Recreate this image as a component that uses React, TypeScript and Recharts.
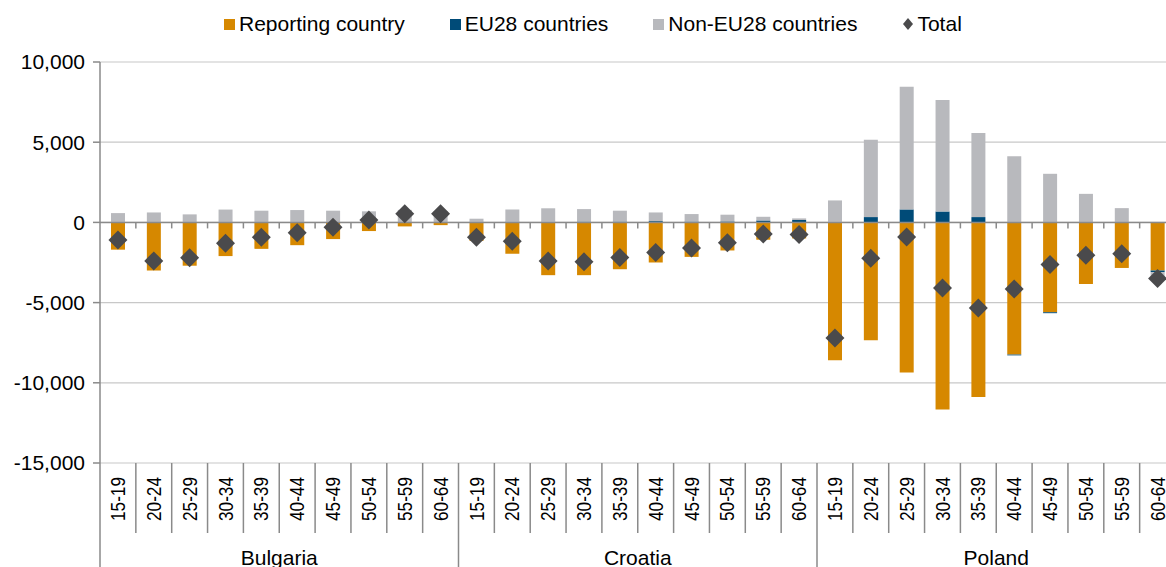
import React from "react";
import {
  ComposedChart,
  Bar,
  Line,
  XAxis,
  YAxis,
  CartesianGrid,
  ReferenceLine,
} from "recharts";

const countries = ["Bulgaria", "Croatia", "Poland"];
const ages = ["15-19", "20-24", "25-29", "30-34", "35-39", "40-44", "45-49", "50-54", "55-59", "60-64"];

// one array per country, values by age group
const reporting = [
  [-1700, -3000, -2700, -2100, -1650, -1420, -1040, -540, -250, -170],
  [-1150, -1960, -3290, -3290, -2920, -2500, -2150, -1750, -1080, -1000],
  [-8590, -7340, -9360, -11660, -10890, -8240, -5600, -3840, -2840, -3000],
];
const eu28 = [
  [10, 10, 10, 20, 10, 20, 20, 10, 20, 20],
  [30, 40, 40, 50, 50, 80, 50, 60, 120, 150],
  [30, 330, 810, 680, 330, -50, -60, 0, 0, -100],
];
const nonEu28 = [
  [570, 610, 490, 780, 720, 750, 710, 680, 760, 690],
  [200, 770, 840, 780, 680, 540, 470, 420, 230, 100],
  [1340, 4820, 7650, 6950, 5250, 4130, 3030, 1780, 890, -400],
];
const totals = [
  [-1100, -2400, -2200, -1300, -920, -650, -310, 150, 540, 540],
  [-920, -1170, -2410, -2460, -2190, -1875, -1600, -1270, -720, -760],
  [-7200, -2240, -910, -4090, -5330, -4150, -2630, -2050, -1950, -3500],
];
const yTicks = [10000, 5000, 0, -5000, -10000, -15000];

const data = countries.flatMap((country, ci) =>
  ages.map((age, ai) => ({
    country,
    age,
    reporting: reporting[ci][ai],
    eu28: eu28[ci][ai],
    nonEu: nonEu28[ci][ai],
    total: totals[ci][ai],
  }))
);

const COLORS = {
  reporting: "#D68800",
  eu28: "#004B78",
  nonEu: "#B8B9BD",
  total: "#4A4A4C",
  axis: "#8A8A8A",
  grid: "#C8C8C8",
};

const legendItems = [
  { label: "Reporting country", color: COLORS.reporting, kind: "square" },
  { label: "EU28 countries", color: COLORS.eu28, kind: "square" },
  { label: "Non-EU28 countries", color: COLORS.nonEu, kind: "square" },
  { label: "Total", color: COLORS.total, kind: "diamond" },
];

const perGroup = ages.length;

// category labels at the bottom + the separators of the two-level axis
const CategoryTick = (props: any) => {
  const { x, y, payload, index, width } = props;
  const half = payload && payload.offset ? payload.offset : width / data.length / 2;
  const groupStart = index % perGroup === 0;
  const row = data[index];
  return (
    <g>
      <line
        x1={x - half}
        x2={x - half}
        y1={y}
        y2={groupStart ? y + 115 : y + 70}
        stroke={COLORS.axis}
        strokeWidth={1.5}
      />
      {index === data.length - 1 && (
        <line x1={x + half} x2={x + half} y1={y} y2={y + 115} stroke={COLORS.axis} strokeWidth={1.5} />
      )}
      <text
        transform={`translate(${x},${y + 14}) rotate(-90) scale(0.82,1)`}
        textAnchor="end"
        dominantBaseline="central"
        fontSize={21}
        fill="#000"
      >
        {payload.value}
      </text>
      {index % perGroup === perGroup / 2 - 1 && row && (
        <text x={x + half} y={y + 94} textAnchor="middle" dominantBaseline="central" fontSize={21} fill="#000">
          {row.country}
        </text>
      )}
    </g>
  );
};

// zero line with the category tick marks
const ZeroAxis = (props: any) => {
  const { x1, x2, y1 } = props;
  const step = (x2 - x1) / data.length;
  return (
    <g>
      <line x1={x1} x2={x2} y1={y1} y2={y1} stroke={COLORS.axis} strokeWidth={1.5} />
      {data.map((_, i) => (
        <line
          key={i}
          x1={x1 + (i + 1) * step}
          x2={x1 + (i + 1) * step}
          y1={y1}
          y2={y1 + 6}
          stroke={COLORS.axis}
          strokeWidth={1.5}
        />
      ))}
    </g>
  );
};

const DiamondDot = (props: any) => {
  const { cx, cy, index } = props;
  if (cx == null || cy == null) return <g key={index} />;
  const r = 9.5;
  return (
    <path
      key={index}
      d={`M${cx},${cy - r}L${cx + r},${cy}L${cx},${cy + r}L${cx - r},${cy}Z`}
      fill={COLORS.total}
    />
  );
};

const App: React.FC = () => {
  return (
    <div
      style={{
        position: "fixed",
        left: 0,
        top: 0,
        width: 1166,
        height: 567,
        overflow: "hidden",
        background: "#fff",
        fontFamily: "'Liberation Sans', Arial, sans-serif",
      }}
    >
      <div
        style={{
          position: "absolute",
          left: 224,
          top: 12,
          display: "flex",
          alignItems: "center",
          gap: 45,
          fontSize: 21,
          lineHeight: "24px",
          color: "#000",
          zIndex: 2,
        }}
      >
        {legendItems.map((item) => (
          <div key={item.label} style={{ display: "flex", alignItems: "center" }}>
            {item.kind === "square" ? (
              <span style={{ width: 11, height: 11, background: item.color, marginRight: 4 }} />
            ) : (
              <svg width={12} height={14} style={{ marginRight: 3 }}>
                <path d="M6,1L11,7L6,13L1,7Z" fill={item.color} />
              </svg>
            )}
            <span>{item.label}</span>
          </div>
        ))}
      </div>

      <ComposedChart
        width={1190}
        height={573}
        data={data}
        stackOffset="sign"
        margin={{ top: 62, right: 14.5, left: 0, bottom: 0 }}
      >
        <CartesianGrid horizontal vertical={false} stroke={COLORS.grid} strokeWidth={1.2} />
        <YAxis
          domain={[-15000, 10000]}
          ticks={yTicks}
          interval={0}
          width={100}
          tickFormatter={(v: number) => v.toLocaleString("en-US")}
          tick={{ fill: "#000", fontSize: 21 }}
          tickSize={7}
          tickMargin={8}
          axisLine={{ stroke: COLORS.axis, strokeWidth: 1.5 }}
          tickLine={{ stroke: COLORS.axis, strokeWidth: 1.5 }}
        />
        <XAxis
          dataKey="age"
          interval={0}
          height={110}
          axisLine={false}
          tickLine={false}
          tickSize={0}
          tickMargin={0}
          tick={<CategoryTick />}
        />
        <Bar dataKey="reporting" stackId="a" fill={COLORS.reporting} barSize={14} isAnimationActive={false} />
        <Bar dataKey="eu28" stackId="a" fill={COLORS.eu28} barSize={14} isAnimationActive={false} />
        <Bar dataKey="nonEu" stackId="a" fill={COLORS.nonEu} barSize={14} isAnimationActive={false} />
        <ReferenceLine y={0} shape={(p: any) => <ZeroAxis {...p} />} />
        <Line
          dataKey="total"
          stroke="none"
          isAnimationActive={false}
          dot={(p: any) => <DiamondDot key={p.index} {...p} />}
          activeDot={false}
        />
      </ComposedChart>
    </div>
  );
};

export default App;
